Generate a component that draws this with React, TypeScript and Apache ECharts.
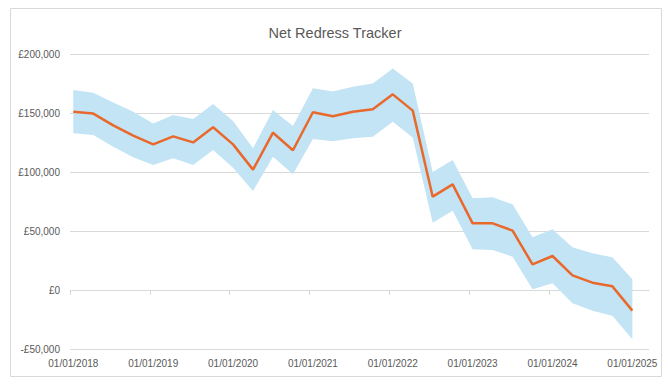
import React, { useEffect, useRef } from "react";
import * as echarts from "echarts";

const dates = [
  "2018-01", "2018-04", "2018-07", "2018-10",
  "2019-01", "2019-04", "2019-07", "2019-10",
  "2020-01", "2020-04", "2020-07", "2020-10",
  "2021-01", "2021-04", "2021-07", "2021-10",
  "2022-01", "2022-04", "2022-07", "2022-10",
  "2023-01", "2023-04", "2023-07", "2023-10",
  "2024-01", "2024-04", "2024-07", "2024-10",
  "2025-01",
];

const netRedress = [
  151000, 149500, 139500, 130800, 123400, 130200, 125100, 137900,
  123400, 102000, 133300, 118400, 150600, 147300, 151100, 153100,
  165800, 152000, 79100, 89500, 56500, 56500, 50300, 21700,
  28800, 12400, 6200, 3100, -17500,
];

const upperBound = [
  169500, 167200, 159000, 151100, 141200, 148300, 144900, 157600,
  143200, 120100, 152500, 139000, 170900, 168300, 172300, 175100,
  187800, 175100, 100000, 110200, 77700, 78500, 72600, 44700,
  51400, 36200, 31100, 27700, 9100,
];

const lowerBound = [
  132800, 131400, 121500, 112400, 105900, 111600, 105900, 118700,
  103700, 83900, 113000, 98000, 128000, 126000, 128600, 129900,
  142600, 129200, 57000, 67200, 34500, 33900, 28200, 600,
  5700, -11300, -17500, -21800, -41800,
];

const yearTicks = [2018, 2019, 2020, 2021, 2022, 2023, 2024, 2025];

const toMonth = (d: string) => {
  const [y, m] = d.split("-").map(Number);
  return (y - 2018) * 12 + (m - 1) + 0.5;
};

const fmtMoney = (v: number) => {
  const s = Math.abs(v).toLocaleString("en-GB");
  return (v < 0 ? "-£" : "£") + s;
};

export default function App() {
  const ref = useRef<HTMLDivElement>(null);
  useEffect(() => {
    if (!ref.current) return;
    const chart = echarts.init(ref.current, undefined, { renderer: "svg" });
    const xs = dates.map(toMonth);
    const tickVals = yearTicks.map((y) => (y - 2018) * 12);
    const labelVals = tickVals.map((t) => t + 0.5);
    const font = "'Liberation Sans', Arial, sans-serif";
    const bandData = xs.map((x, i) => [x, lowerBound[i], upperBound[i]]);
    chart.setOption({
      animation: false,
      backgroundColor: "#ffffff",
      title: {
        text: "Net Redress Tracker",
        left: "center",
        top: 20,
        textStyle: { fontFamily: font, fontSize: 14.5, fontWeight: "normal", color: "#595959" },
      },
      graphic: [
        {
          type: "rect",
          shape: { x: 10.5, y: 8.5, width: 651, height: 368 },
          style: { fill: "none", stroke: "#d9d9d9", lineWidth: 1 },
          silent: true,
        },
      ],
      grid: { left: 70, right: 21, top: 54, bottom: 39, containLabel: false },
      xAxis: [
        {
          type: "value",
          min: 0,
          max: 87,
          position: "bottom",
          axisLine: { show: false, onZero: false },
          axisTick: { show: false },
          splitLine: { show: false },
          axisLabel: {
            customValues: labelVals,
            margin: 9,
            fontFamily: font,
            fontSize: 10,
            color: "#595959",
            formatter: (v: number) => "01/01/" + (2018 + Math.floor(v / 12)),
          },
        },
        {
          type: "value",
          min: 0,
          max: 87,
          position: "bottom",
          axisLine: { show: true, onZero: true, lineStyle: { color: "#d9d9d9", width: 1 } },
          axisTick: { show: true, customValues: tickVals, length: 5, lineStyle: { color: "#d9d9d9" } },
          splitLine: { show: false },
          axisLabel: { show: false },
        },
      ],
      yAxis: {
        type: "value",
        min: -50000,
        max: 200000,
        interval: 50000,
        axisLine: { show: false },
        axisTick: { show: false },
        splitLine: { lineStyle: { color: "#d9d9d9", width: 1 } },
        axisLabel: {
          margin: 10,
          fontFamily: font,
          fontSize: 10,
          color: "#595959",
          formatter: fmtMoney,
        },
      },
      series: [
        {
          type: "custom",
          name: "band",
          data: bandData,
          encode: { x: 0, y: [1, 2] },
          silent: true,
          z: 3,
          renderItem: (params: any, api: any) => {
            if (params.dataIndex !== 0) return null;
            const upper = bandData.map((d) => api.coord([d[0], d[2]]));
            const lower = bandData.map((d) => api.coord([d[0], d[1]])).reverse();
            return {
              type: "polygon",
              shape: { points: upper.concat(lower) },
              style: { fill: "#c2e4f5", stroke: "none" },
            };
          },
        },
        {
          type: "line",
          name: "Net Redress",
          data: xs.map((x, i) => [x, netRedress[i]]),
          symbol: "none",
          lineStyle: { color: "#e9692c", width: 2.5 },
          z: 5,
        },
      ],
    });
    return () => chart.dispose();
  }, []);
  return (
    <div
      ref={ref}
      style={{ position: "absolute", left: 0, top: 0, width: 670, height: 388 }}
    />
  );
}
